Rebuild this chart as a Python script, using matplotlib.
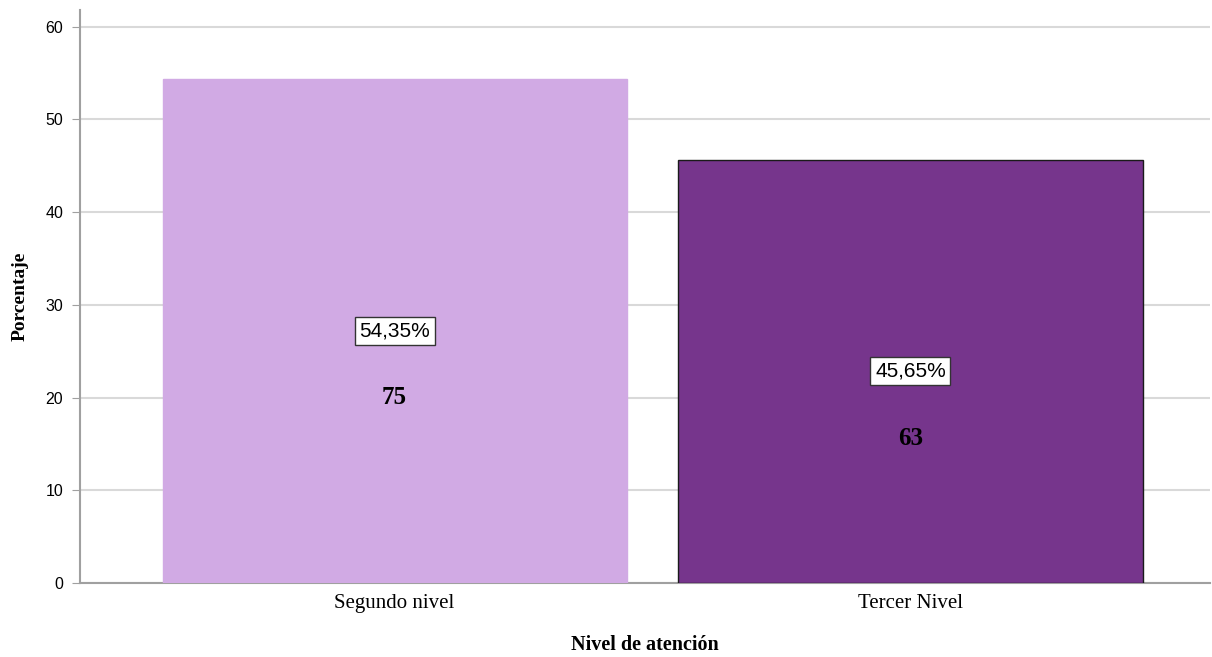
import matplotlib.pyplot as plt
import numpy as np

categorias = ["Segundo nivel", "Tercer Nivel"]
porcentajes = [54.35, 45.65]
frecuencias = [75, 63]
etiquetas_pct = ["54,35%", "45,65%"]
colores = ["#D1AAE4", "#76358C"]
bordes = ["#D1AAE4", "#1a1a1a"]

fig = plt.figure(figsize=(12.12, 6.57), dpi=100)
ax = fig.add_axes([0.066, 0.1126, 0.932, 0.8722])

x = np.arange(len(categorias))
ax.bar(x, porcentajes, width=0.9, color=colores, edgecolor=bordes, linewidth=1, zorder=3)

ax.set_xlim(-0.61, 1.58)
ax.set_ylim(0, 61.8)
ax.set_yticks(range(0, 61, 10))
ax.yaxis.grid(True, color="#D9D9D9", linewidth=1.5, zorder=0)
ax.set_axisbelow(True)

for s in ["top", "right"]:
    ax.spines[s].set_visible(False)
for s in ["left", "bottom"]:
    ax.spines[s].set_color("#A0A0A0")
    ax.spines[s].set_linewidth(1.5)
ax.tick_params(axis="y", length=6, color="#A0A0A0", labelsize=11.5, pad=6)
ax.tick_params(axis="x", length=0, pad=8)
for t in ax.get_yticklabels():
    t.set_family("Liberation Sans")

ax.set_xticks(x)
ax.set_xticklabels(categorias, family="Liberation Serif", fontsize=15)

ax.set_xlabel("Nivel de atención", family="Liberation Serif", fontweight="bold",
              fontsize=14.5, labelpad=16)
ax.set_ylabel("Porcentaje", family="Liberation Serif", fontweight="bold",
              fontsize=14, labelpad=12)

# etiquetas dentro de las barras
for xi, p, f, lab in zip(x, porcentajes, frecuencias, etiquetas_pct):
    ax.text(xi, p / 2, lab, ha="center", va="center", fontsize=15,
            family="Liberation Sans", zorder=5,
            bbox=dict(boxstyle="square,pad=0.22", facecolor="white",
                      edgecolor="#333333", linewidth=1))
    ax.annotate(str(f), (xi, p / 2), xytext=(0, -48), textcoords="offset points",
                ha="center", va="center", fontsize=18, family="Liberation Serif",
                fontweight="semibold", zorder=5)

fig.savefig("out.png", dpi=100)
